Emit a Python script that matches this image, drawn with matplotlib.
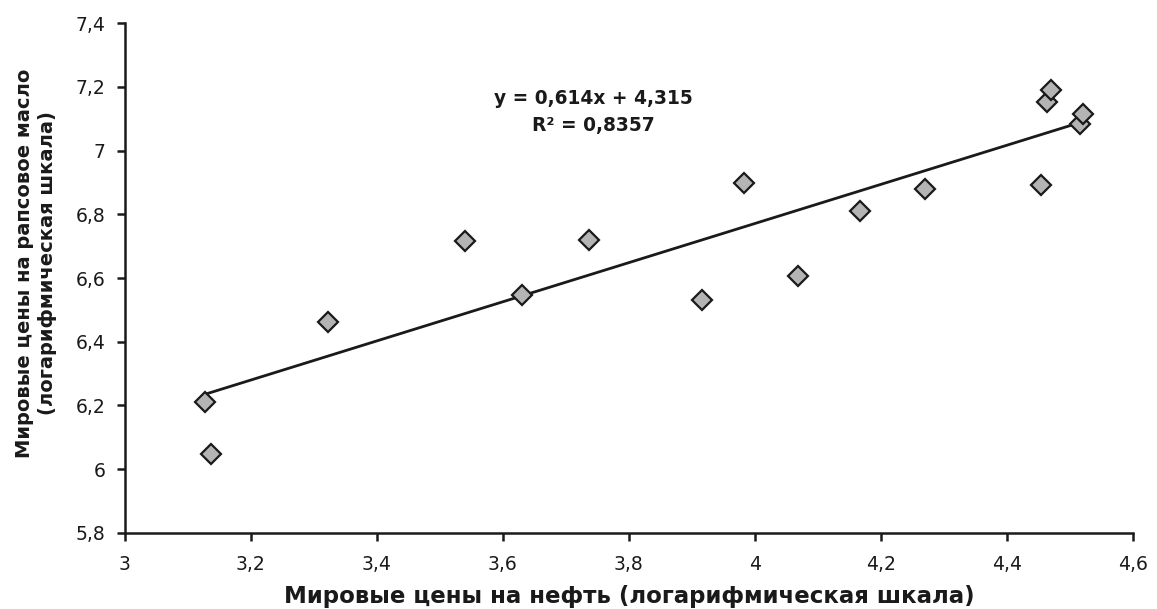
import numpy as np
import matplotlib
matplotlib.use("Agg")
import matplotlib.pyplot as plt
from matplotlib.ticker import FuncFormatter, MultipleLocator

plt.rcParams['font.family'] = ['DejaVu Sans']

# log oil price vs log rapeseed oil price
oil = [3.127, 3.136, 3.322, 3.540, 3.630, 3.737, 3.916, 3.983,
       4.069, 4.167, 4.270, 4.455, 4.464, 4.471, 4.517, 4.521]
rapeseed = [6.212, 6.048, 6.463, 6.717, 6.547, 6.720, 6.532, 6.898,
            6.607, 6.810, 6.880, 6.893, 7.154, 7.189, 7.083, 7.115]

slope = 0.614
intercept = 4.315
r2 = 0.8357

def comma_fmt(v, pos):
    s = f"{v:.1f}"
    if s.endswith(".0"):
        s = s[:-2]
    return s.replace(".", ",")

fig = plt.figure(figsize=(11.57, 6.09), dpi=100)
ax = fig.add_axes([0.108, 0.125, 0.871, 0.837])

xs = np.array([min(oil), max(oil)])
ax.plot(xs, slope * xs + intercept, color='#1a1a1a', lw=2, zorder=2)
ax.plot(oil, rapeseed, linestyle='none', marker='D', markersize=10,
        markerfacecolor='#b4b4b4', markeredgecolor='#1a1a1a',
        markeredgewidth=1.6, zorder=3)

ax.set_xlim(3, 4.6)
ax.set_ylim(5.8, 7.4)
ax.xaxis.set_major_locator(MultipleLocator(0.2))
ax.yaxis.set_major_locator(MultipleLocator(0.2))
ax.xaxis.set_major_formatter(FuncFormatter(comma_fmt))
ax.yaxis.set_major_formatter(FuncFormatter(comma_fmt))

for side in ['top', 'right']:
    ax.spines[side].set_visible(False)
for side in ['left', 'bottom']:
    ax.spines[side].set_linewidth(1.8)
    ax.spines[side].set_color('#1a1a1a')
ax.tick_params(direction='out', length=6, width=1.8, color='#1a1a1a',
               labelsize=13.5, labelcolor='#1a1a1a')
ax.tick_params(axis='x', pad=10)
ax.tick_params(axis='y', pad=8)

eq = f"y = {slope:.3f}x + {intercept:.3f}\nR² = {r2:.4f}".replace(".", ",")
ax.text(3.743, 7.122, eq, ha='center', va='center', multialignment='center',
        fontsize=13.4, fontweight='bold', color='#1a1a1a', linespacing=1.55)

fig.text(629 / 1157, 1 - 596 / 609,
         "Мировые цены на нефть (логарифмическая шкала)",
         ha='center', va='center', fontsize=16.5, fontweight='bold',
         color='#1a1a1a')
fig.text(0.031, 1 - 263 / 609,
         "Мировые цены на рапсовое масло\n(логарифмическая шкала)",
         rotation=90, ha='center', va='center', multialignment='center',
         fontsize=14, fontweight='bold', color='#1a1a1a', linespacing=1.3)

fig.savefig("out.png", dpi=100, facecolor='white')
